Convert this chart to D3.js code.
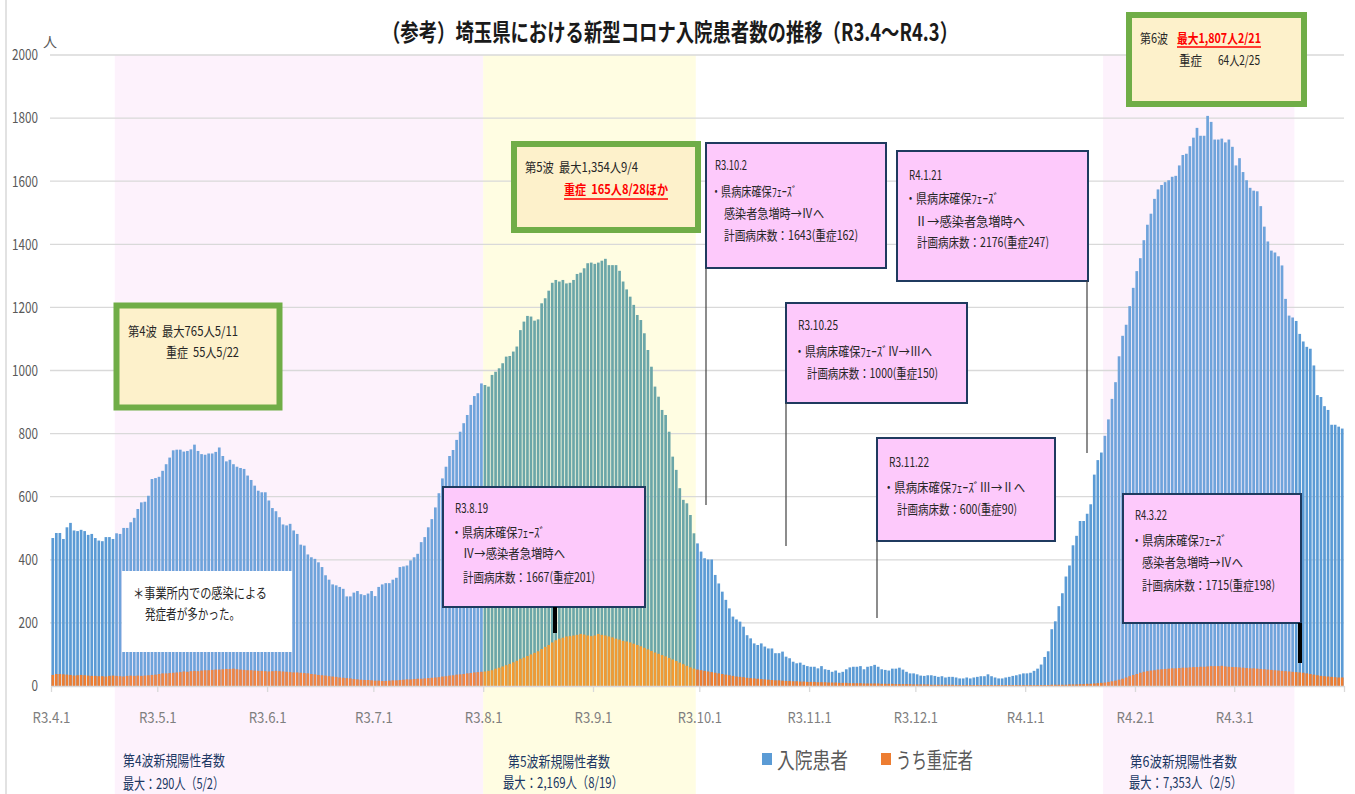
<!DOCTYPE html>
<html>
<head>
<meta charset="utf-8">
<script src="https://cdn.jsdelivr.net/npm/d3@7"></script>
<style>
  body { margin: 0; background: #fff; }
  svg { display: block; }
  text { font-family: "Noto Sans CJK JP", "Noto Sans", sans-serif; white-space: pre; }
</style>
</head>
<body>
<svg id="chart" width="1355" height="794"></svg>
<script>
'use strict';

// 入院患者 (daily), one array per month, R3.4.1 - R4.3.31
const inpat2104 = [469,485,485,466,503,517,493,491,495,491,479,482,469,461,459,472,472,466,484,482,501,501,519,533,561,582,584,603,656,659];
const inpat2105 = [663,682,703,724,747,749,749,743,745,750,765,745,735,733,737,737,742,756,729,712,717,703,695,691,688,667,653,635,619,614,614];
const inpat2106 = [588,564,554,535,512,509,514,493,482,448,445,417,408,403,392,377,351,337,322,319,314,308,284,284,296,301,291,288,293,301];
const inpat2107 = [285,314,322,326,326,337,343,377,379,382,398,408,419,456,472,503,529,566,611,658,695,729,748,780,806,833,859,891,919,928,959];
const inpat2108 = [954,949,986,996,1007,1023,1044,1046,1060,1076,1128,1155,1173,1171,1158,1162,1213,1229,1253,1278,1287,1282,1287,1276,1278,1287,1306,1310,1324,1340,1342];
const inpat2109 = [1338,1342,1348,1354,1334,1334,1334,1316,1282,1257,1234,1208,1176,1160,1118,1065,1012,949,917,875,859,806,727,685,627,590,579,542,484,452];
const inpat2110 = [426,405,401,401,352,325,299,273,246,220,211,204,188,161,151,135,130,135,125,119,119,104,104,109,93,88,77,72,74,67,63];
const inpat2111 = [61,61,56,63,53,51,45,49,42,45,53,59,61,61,63,53,61,63,67,61,53,51,49,55,55,58,52,45,40,40];
const inpat2112 = [37,33,32,34,34,32,29,31,27,29,29,27,24,24,27,24,27,29,31,31,37,31,27,24,24,27,29,32,34,37,40];
const inpat2201 = [40,42,48,55,68,92,110,180,205,253,294,347,382,446,476,523,523,546,576,670,716,740,793,845,910,963,1045,1110,1145,1204,1262];
const inpat2202 = [1315,1356,1413,1462,1497,1544,1574,1588,1597,1603,1614,1617,1650,1683,1687,1711,1738,1769,1744,1744,1807,1788,1732,1732,1735,1723,1732,1709];
const inpat2203 = [1650,1673,1629,1603,1579,1570,1568,1521,1456,1409,1380,1374,1362,1333,1227,1174,1168,1157,1116,1092,1075,1069,1016,922,916,887,875,828,828,822,816];

// うち重症者 (daily)
const severe2104 = [35,38,38,37,36,35,33,34,35,34,33,32,32,31,31,30,32,33,32,31,30,32,33,32,33,32,33,34,35,36];
const severe2105 = [38,40,40,41,42,43,44,46,45,47,48,47,49,50,50,51,52,52,53,54,54,55,53,52,51,50,50,49,48,48,47];
const severe2106 = [46,47,48,47,46,45,44,43,43,42,41,40,38,37,35,34,33,31,30,29,27,26,25,24,22,21,20,19,19,18];
const severe2107 = [17,17,16,16,17,18,18,19,20,21,21,22,23,23,24,25,26,27,28,30,31,33,34,36,37,38,40,41,43,44,45];
const severe2108 = [46,48,50,55,58,62,66,70,75,80,86,90,95,100,105,110,117,124,130,138,145,150,153,157,158,160,162,165,163,160,158];
const severe2109 = [160,165,162,160,157,154,150,147,143,141,138,134,130,126,121,116,111,106,102,98,94,89,84,79,74,69,64,59,55,52];
const severe2110 = [50,48,46,44,42,40,38,36,34,32,30,29,28,26,25,24,23,22,21,20,19,18,18,17,16,16,15,15,14,14,13];
const severe2111 = [13,13,12,12,12,11,11,11,10,10,10,9,9,9,9,8,8,8,8,8,7,7,7,7,6,6,6,6,6,5];
const severe2112 = [5,5,5,5,4,4,4,4,4,4,4,3,3,3,3,3,3,3,3,3,3,3,3,3,3,3,3,3,3,3,3];
const severe2201 = [3,3,3,3,3,3,3,4,4,4,4,4,5,5,5,6,6,7,7,8,9,10,11,13,15,17,20,23,27,31,35];
const severe2202 = [38,42,45,47,49,50,52,53,54,55,56,56,57,58,58,59,60,60,61,61,62,63,63,63,64,62,61,60];
const severe2203 = [60,59,58,57,56,56,55,54,53,52,51,50,49,48,47,46,45,44,43,42,40,38,36,34,32,31,30,29,28,27,27];

const tickDates = ['2021-04-01','2021-05-01','2021-06-01','2021-07-01','2021-08-01','2021-09-01','2021-10-01','2021-11-01','2021-12-01','2022-01-01','2022-02-01','2022-03-01','2022-04-01'];
const tickLabels = ['R3.4.1','R3.5.1','R3.6.1','R3.7.1','R3.8.1','R3.9.1','R3.10.1','R3.11.1','R3.12.1','R4.1.1','R4.2.1','R4.3.1',''];
const yTicks = [0,200,400,600,800,1000,1200,1400,1600,1800,2000];
const seriesNames = ['入院患者','うち重症者'];

const inpatients = [].concat(inpat2104,inpat2105,inpat2106,inpat2107,inpat2108,inpat2109,inpat2110,inpat2111,inpat2112,inpat2201,inpat2202,inpat2203);
const severe = [].concat(severe2104,severe2105,severe2106,severe2107,severe2108,severe2109,severe2110,severe2111,severe2112,severe2201,severe2202,severe2203);

const parse = d3.timeParse('%Y-%m-%d');
const days = d3.timeDay.range(parse('2021-04-01'), parse('2022-04-01'));
const rows = days.map((d, i) => ({date: d, inpat: inpatients[i], severe: severe[i]}));

// shaded wave periods (bg, bar colours inside)
const zones = [
  {from: '2021-04-19', to: '2021-08-01', bg: '#fdf2fc', bar: '#6fa3db', sev: '#ef8544'},
  {from: '2021-08-01', to: '2021-09-30', bg: '#fffde2', bar: '#6ba6a8', sev: '#f29a32'},
  {from: '2022-01-23', to: '2022-03-18', bg: '#fdf2fc', bar: '#6fa3db', sev: '#ef8544'}
];

const svg = d3.select('#chart');
const plotTop = 55, plotBottom = 686, plotLeft = 51, plotRight = 1344;

const xt = d3.scaleTime().domain([parse('2021-04-01'), parse('2022-04-01')]).range([plotLeft, plotRight]);
const x = d3.scaleBand().domain(d3.range(rows.length)).range([plotLeft, plotRight]).paddingInner(0.24).paddingOuter(0.12);
const y = d3.scaleLinear().domain([0, 2000]).range([plotBottom, plotTop]);

function zoneOf(d) {
  return zones.find(z => d.date >= parse(z.from) && d.date < parse(z.to));
}

// frame line at far left
svg.append('line').attr('x1', 6).attr('x2', 6).attr('y1', 0).attr('y2', 794)
  .attr('stroke', '#d9d9d9').attr('stroke-width', 1.5);

// background bands
svg.selectAll('rect.zone').data(zones).enter().append('rect')
  .attr('class', 'zone')
  .attr('x', z => xt(parse(z.from)))
  .attr('width', z => xt(parse(z.to)) - xt(parse(z.from)))
  .attr('y', plotTop)
  .attr('height', 794 - plotTop)
  .attr('fill', z => z.bg);

// gridlines
svg.selectAll('line.grid').data(yTicks.filter(v => v > 0)).enter().append('line')
  .attr('class', 'grid')
  .attr('x1', 50).attr('x2', plotRight)
  .attr('y1', d => y(d)).attr('y2', d => y(d))
  .attr('stroke', '#d9d9d9').attr('stroke-width', 1.3);

// bars
svg.selectAll('rect.inpat').data(rows).enter().append('rect')
  .attr('class', 'inpat')
  .attr('x', (d, i) => x(i))
  .attr('width', x.bandwidth())
  .attr('y', d => y(d.inpat))
  .attr('height', d => y(0) - y(d.inpat))
  .attr('fill', d => { const z = zoneOf(d); return z ? z.bar : '#5b9bd5'; });

svg.selectAll('rect.severe').data(rows).enter().append('rect')
  .attr('class', 'severe')
  .attr('x', (d, i) => x(i))
  .attr('width', x.bandwidth())
  .attr('y', d => y(d.severe))
  .attr('height', d => y(0) - y(d.severe))
  .attr('fill', d => { const z = zoneOf(d); return z ? z.sev : '#ed7d31'; });

// x axis
const xAxis = svg.append('g').attr('transform', `translate(0,${plotBottom})`)
  .call(d3.axisBottom(xt)
    .tickValues(tickDates.map(parse))
    .tickFormat((d, i) => tickLabels[i])
    .tickSize(6).tickSizeOuter(0));
xAxis.select('.domain').attr('stroke', '#d9d9d9').attr('stroke-width', 1.3);
xAxis.selectAll('.tick line').attr('stroke', '#d9d9d9').attr('stroke-width', 1.3);
xAxis.selectAll('.tick text')
  .attr('y', 37).attr('dy', 0)
  .attr('fill', '#7f7f7f').attr('font-size', 15)
  .attr('font-family', '"Noto Sans", sans-serif')
  .each(function() {
    const s = d3.select(this).text();
    if (s) d3.select(this).attr('textLength', s.length * 6.3).attr('lengthAdjust', 'spacingAndGlyphs');
  });

// y axis
const yAxis = svg.append('g').attr('transform', 'translate(50,0)')
  .call(d3.axisLeft(y).tickValues(yTicks).tickFormat(d3.format('d')).tickSize(0).tickPadding(12));
yAxis.select('.domain').remove();
yAxis.selectAll('.tick text')
  .attr('fill', '#595959').attr('font-size', 15)
  .attr('font-family', '"Noto Sans", sans-serif')
  .each(function() {
    const s = d3.select(this).text();
    d3.select(this).attr('textLength', s.length * 6.5).attr('lengthAdjust', 'spacingAndGlyphs');
  });

// helper for squeezed text
function label(x0, y0, s, w, size, color, weight) {
  const t = svg.append('text').attr('x', x0).attr('y', y0).text(s)
    .attr('font-size', size).attr('fill', color || '#262626');
  if (weight) t.attr('font-weight', weight);
  if (w) t.attr('textLength', w).attr('lengthAdjust', 'spacingAndGlyphs');
  return t;
}

label(43, 47, '人', 0, 14, '#595959');

// title
label(382, 41, '（参考）埼玉県における新型コロナ入院患者数の推移（R3.4～R4.3）', 576, 24, '#1a1a1a', 'bold');

// note box
svg.append('rect').attr('x', 122).attr('y', 571).attr('width', 170).attr('height', 81).attr('fill', '#fff');
label(133, 598, '＊事業所内での感染による', 134, 14);
label(145, 619, '発症者が多かった。', 95, 14);

// green callouts
const greenBoxes = [
  {x: 116.5, y: 305.5, w: 163, h: 102},
  {x: 514, y: 144, w: 184, h: 86},
  {x: 1129, y: 15, w: 175, h: 89}
];
svg.selectAll('rect.green').data(greenBoxes).enter().append('rect')
  .attr('class', 'green')
  .attr('x', d => d.x).attr('y', d => d.y).attr('width', d => d.w).attr('height', d => d.h)
  .attr('fill', '#fdf1cb').attr('stroke', '#70ad47').attr('stroke-width', 6);

label(128, 336, '第4波  最大765人5/11', 110, 13);
label(166, 357, '重症  55人5/22', 73, 13);

label(525, 172, '第5波  最大1,354人9/4', 113, 13);
label(564, 194, '重症  165人8/28ほか', 104, 13, '#ff0000', 'bold');
svg.append('line').attr('x1', 564).attr('x2', 668).attr('y1', 199).attr('y2', 199).attr('stroke', '#ff0000').attr('stroke-width', 1.5);

label(1140, 43, '第6波', 28, 13);
label(1177, 43, '最大1,807人2/21', 84, 13, '#ff0000', 'bold');
svg.append('line').attr('x1', 1177).attr('x2', 1261).attr('y1', 47).attr('y2', 47).attr('stroke', '#ff0000').attr('stroke-width', 1.5);
label(1179, 65, '重症', 23, 13);
label(1218, 65, '64人2/25', 42, 13);

// pink notes about bed phases
const pinkBoxes = [
  {x: 443, y: 487, w: 202, h: 120, lines: [
    ['R3.8.19', 12, 26, 33], ['・県病床確保ﾌｪｰｽﾞ', 8, 50, 94], ['Ⅳ→感染者急増時へ', 20, 71, 102], ['計画病床数：1667(重症201)', 20, 95, 132]]},
  {x: 706, y: 143, w: 180, h: 125, lines: [
    ['R3.10.2', 9, 27, 32], ['・県病床確保ﾌｪｰｽﾞ', 5, 53, 86], ['感染者急増時→Ⅳへ', 18, 75, 100], ['計画病床数：1643(重症162)', 18, 97, 134]]},
  {x: 786, y: 303, w: 181, h: 100, lines: [
    ['R3.10.25', 12, 27, 40], ['・県病床確保ﾌｪｰｽﾞⅣ→Ⅲへ', 8, 53, 138], ['計画病床数：1000(重症150)', 21, 75, 131]]},
  {x: 877, y: 438, w: 178, h: 103, lines: [
    ['R3.11.22', 12, 29, 40], ['・県病床確保ﾌｪｰｽﾞⅢ→Ⅱへ', 6, 54, 142], ['計画病床数：600(重症90)', 20, 76, 120]]},
  {x: 897, y: 151, w: 191, h: 130, lines: [
    ['R4.1.21', 12, 29, 33], ['・県病床確保ﾌｪｰｽﾞ', 8, 52, 94], ['Ⅱ→感染者急増時へ', 18, 75, 110], ['計画病床数：2176(重症247)', 20, 96, 132]]},
  {x: 1123, y: 494, w: 178, h: 129, lines: [
    ['R4.3.22', 12, 26, 32], ['・県病床確保ﾌｪｰｽﾞ', 8, 51, 96], ['感染者急増時→Ⅳへ', 19, 73, 101], ['計画病床数：1715(重症198)', 19, 96, 133]]}
];
svg.selectAll('rect.pink').data(pinkBoxes).enter().append('rect')
  .attr('class', 'pink')
  .attr('x', d => d.x).attr('y', d => d.y).attr('width', d => d.w).attr('height', d => d.h)
  .attr('fill', '#fdc9fb').attr('stroke', '#1f3a5f').attr('stroke-width', 2);
pinkBoxes.forEach(b => {
  b.lines.forEach(l => label(b.x + l[1], b.y + l[2], l[0], l[3], 13));
});

// leader lines
const leaders = [
  {x: 555, y1: 607, y2: 633, w: 4, c: '#000'},
  {x: 706, y1: 268, y2: 505, w: 1.2, c: '#404040'},
  {x: 786, y1: 403, y2: 546, w: 1.2, c: '#404040'},
  {x: 877, y1: 541, y2: 618, w: 1.2, c: '#404040'},
  {x: 1087, y1: 281, y2: 453, w: 1.2, c: '#404040'},
  {x: 1300, y1: 623, y2: 663, w: 4, c: '#000'}
];
svg.selectAll('line.leader').data(leaders).enter().append('line')
  .attr('class', 'leader')
  .attr('x1', d => d.x).attr('x2', d => d.x).attr('y1', d => d.y1).attr('y2', d => d.y2)
  .attr('stroke', d => d.c).attr('stroke-width', d => d.w);

// new positives notes under the axis
const navy = '#203864';
label(123, 766, '第4波新規陽性者数', 102, 15, navy);
label(123, 789, '最大：290人（5/2）', 101, 15, navy);
label(508, 767, '第5波新規陽性者数', 102, 15, navy);
label(503, 788, '最大：2,169人（8/19）', 120, 15, navy);
label(1130, 767, '第6波新規陽性者数', 107, 15, navy);
label(1129, 788, '最大：7,353人（2/5）', 113, 15, navy);

// legend
const legendX = [762, 881];
const legendW = [71, 77];
const legendC = ['#5b9bd5', '#ed7d31'];
const lg = svg.selectAll('g.legend').data(seriesNames).enter().append('g').attr('class', 'legend');
lg.append('rect').attr('x', (d, i) => legendX[i]).attr('y', 753).attr('width', 10).attr('height', 12)
  .attr('fill', (d, i) => legendC[i]);
lg.append('text').attr('x', (d, i) => legendX[i] + 15).attr('y', 768)
  .attr('font-size', 22).attr('fill', '#595959')
  .attr('textLength', (d, i) => legendW[i]).attr('lengthAdjust', 'spacingAndGlyphs')
  .text(d => d);
</script>
</body>
</html>
